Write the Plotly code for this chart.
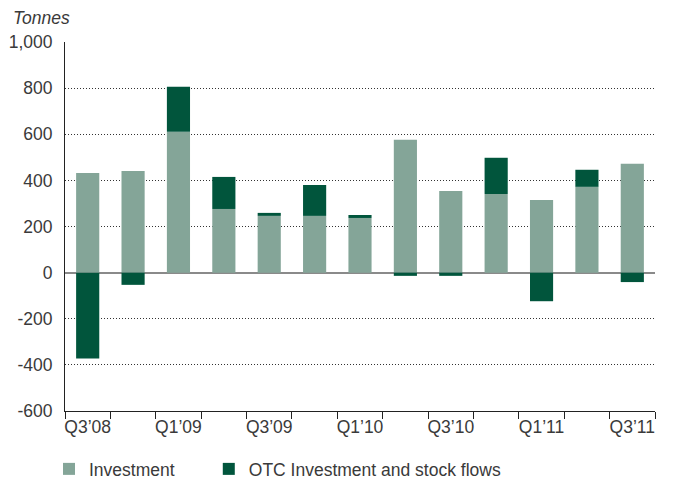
import plotly.graph_objects as go

categories = ["Q3'08", "Q4'08", "Q1'09", "Q2'09", "Q3'09", "Q4'09", "Q1'10",
              "Q2'10", "Q3'10", "Q4'10", "Q1'11", "Q2'11", "Q3'11"]
investment = [432, 441, 611, 276, 246, 246, 237, 576, 354, 341, 315, 372, 472]
otc_flows = [-372, -53, 195, 139, 13, 134, 13, -14, -14, 157, -124, 74, -41]
tick_labels = ["Q3\u201908", "", "Q1\u201909", "", "Q3\u201909", "", "Q1\u201910",
               "", "Q3\u201910", "", "Q1\u201911", "", "Q3\u201911"]
y_ticks = [-600, -400, -200, 0, 200, 400, 600, 800, 1000]
y_tick_text = ["-600", "-400", "-200", "0", "200", "400", "600", "800", "1,000"]
series_names = ["Investment" + "\u00a0" * 6, "OTC Investment and stock flows"]

FONT = "Liberation Sans"
TXT = "#3a3a3a"
FS = 17.5
W, H = 665, 476  # page body has an 8px margin

fig = go.Figure()
fig.add_trace(go.Bar(x=categories, y=investment, name=series_names[0],
                     marker=dict(color="#84a598", line=dict(width=0))))
fig.add_trace(go.Bar(x=categories, y=otc_flows, name=series_names[1],
                     marker=dict(color="#01553c", line=dict(width=0))))

fig.update_layout(
    width=W, height=H,
    margin=dict(l=57, r=18, t=34, b=73, autoexpand=False),
    barmode="relative", bargap=0.49,
    plot_bgcolor="white", paper_bgcolor="white",
    font=dict(family=FONT, size=FS, color=TXT),
    showlegend=True,
    legend=dict(orientation="h", xref="container", yref="container",
                x=41 / W, xanchor="left", y=1 - 461 / H, yanchor="middle",
                font=dict(size=FS, color=TXT), itemwidth=30, traceorder="normal"),
    xaxis=dict(type="category", tickmode="array", tickvals=categories, ticktext=tick_labels,
               tickson="boundaries", ticks="outside", ticklen=7, tickcolor="#222",
               tickangle=0, automargin=False,
               showline=True, linecolor="#222", linewidth=1, showgrid=False,
               range=[-0.5, 12.5], tickfont=dict(size=FS, color=TXT)),
    yaxis=dict(range=[-600, 1000], tickmode="array", tickvals=y_ticks, ticktext=y_tick_text,
               showgrid=True, gridcolor="#333", griddash="1px,2px", gridwidth=1,
               zeroline=True, zerolinecolor="#8a8a8a", zerolinewidth=2,
               showline=True, linecolor="#222", linewidth=1, automargin=False,
               ticks="outside", ticklen=8, tickcolor="rgba(0,0,0,0)",
               tickfont=dict(size=FS, color=TXT)),
    annotations=[dict(text="<i>Tonnes</i>", xref="paper", yref="paper",
                      x=-0.0898, y=1.0, yshift=24, xanchor="left", yanchor="middle",
                      borderpad=0,
                      showarrow=False, font=dict(size=FS, color=TXT, family=FONT))],
)

fig.write_html("out.html")
